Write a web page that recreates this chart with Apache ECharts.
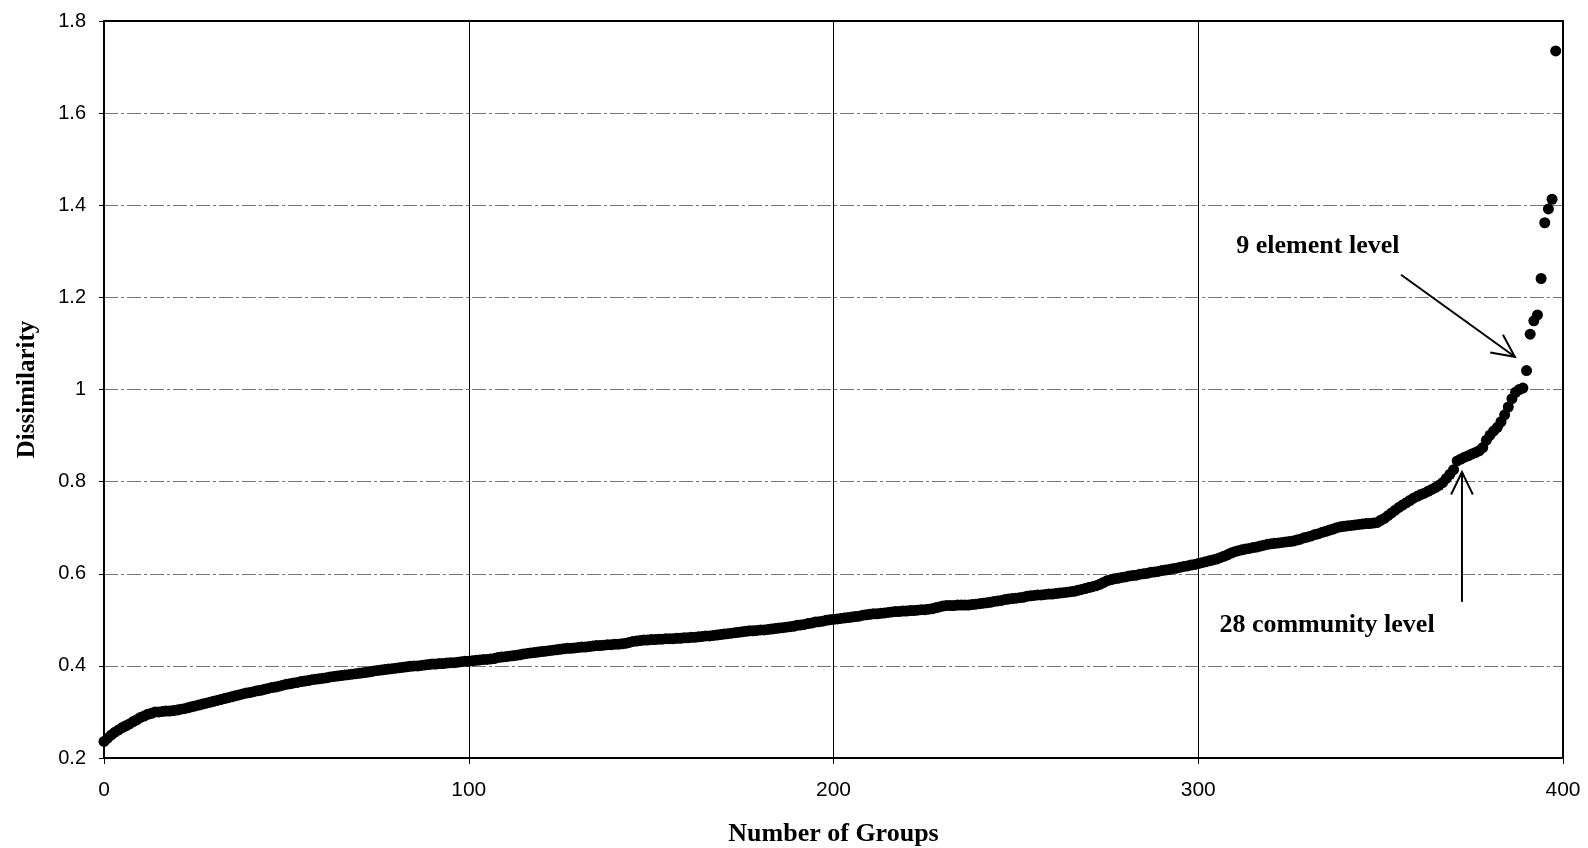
<!DOCTYPE html>
<html>
<head>
<meta charset="utf-8">
<script src="https://cdn.jsdelivr.net/npm/echarts@6/dist/echarts.min.js"></script>
<style>
html,body{margin:0;padding:0;background:#fff;}
#chart{width:1588px;height:848px;}
</style>
</head>
<body>
<div id="chart"></div>
<script>
// Dissimilarity value for each number of groups (index 0..398)
const dissimilarity = [
0.236,0.243,0.250,0.256,0.261,0.266,0.270,0.274,0.279,0.283,
0.288,0.291,0.295,0.297,0.300,0.300,0.301,0.302,0.302,0.303,
0.304,0.306,0.307,0.309,0.311,0.313,0.315,0.317,0.319,0.321,
0.323,0.325,0.327,0.329,0.331,0.333,0.335,0.337,0.339,0.341,
0.342,0.344,0.346,0.347,0.349,0.351,0.353,0.354,0.356,0.358,
0.360,0.361,0.363,0.364,0.366,0.367,0.368,0.370,0.371,0.372,
0.373,0.374,0.376,0.377,0.378,0.379,0.380,0.381,0.382,0.383,
0.384,0.385,0.386,0.387,0.389,0.390,0.391,0.392,0.393,0.394,
0.395,0.396,0.397,0.398,0.399,0.400,0.400,0.401,0.402,0.403,
0.404,0.404,0.405,0.405,0.406,0.407,0.407,0.408,0.409,0.410,
0.410,0.411,0.412,0.413,0.414,0.414,0.415,0.416,0.418,0.419,
0.420,0.421,0.422,0.423,0.424,0.426,0.427,0.428,0.429,0.430,
0.431,0.432,0.433,0.434,0.435,0.436,0.437,0.438,0.438,0.439,
0.440,0.441,0.441,0.442,0.443,0.444,0.444,0.445,0.446,0.446,
0.447,0.447,0.448,0.449,0.451,0.453,0.454,0.455,0.456,0.456,
0.457,0.457,0.458,0.458,0.459,0.459,0.459,0.460,0.460,0.461,
0.461,0.462,0.462,0.463,0.464,0.465,0.465,0.466,0.467,0.468,
0.469,0.470,0.471,0.472,0.473,0.474,0.475,0.476,0.476,0.477,
0.478,0.478,0.479,0.480,0.481,0.482,0.483,0.484,0.485,0.486,
0.488,0.489,0.490,0.492,0.493,0.495,0.496,0.497,0.499,0.500,
0.501,0.502,0.503,0.504,0.505,0.506,0.507,0.508,0.510,0.511,
0.512,0.513,0.513,0.514,0.515,0.516,0.517,0.518,0.518,0.519,
0.519,0.520,0.520,0.521,0.522,0.522,0.523,0.524,0.526,0.528,
0.530,0.531,0.531,0.531,0.532,0.532,0.532,0.532,0.533,0.534,
0.535,0.536,0.537,0.538,0.540,0.541,0.542,0.544,0.545,0.546,
0.547,0.548,0.549,0.551,0.552,0.553,0.554,0.554,0.555,0.556,
0.556,0.557,0.558,0.559,0.560,0.561,0.562,0.564,0.566,0.568,
0.570,0.572,0.574,0.577,0.581,0.585,0.587,0.589,0.590,0.592,
0.593,0.595,0.596,0.597,0.599,0.600,0.601,0.603,0.604,0.605,
0.607,0.608,0.609,0.611,0.612,0.614,0.616,0.617,0.619,0.620,
0.622,0.624,0.626,0.628,0.630,0.632,0.635,0.638,0.641,0.645,
0.648,0.650,0.652,0.654,0.655,0.657,0.658,0.660,0.662,0.664,
0.665,0.666,0.667,0.668,0.669,0.670,0.671,0.673,0.675,0.678,
0.680,0.682,0.685,0.687,0.690,0.692,0.695,0.697,0.700,0.702,
0.703,0.704,0.705,0.706,0.707,0.708,0.709,0.709,0.710,0.711,
0.716,0.720,0.726,0.732,0.738,0.744,0.749,0.754,0.759,0.764,
0.768,0.772,0.775,0.779,0.783,0.787,0.792,0.798,0.807,0.816,
0.826,0.845,0.849,0.853,0.856,0.860,0.863,0.867,0.874,0.890,
0.901,0.910,0.918,0.930,0.945,0.962,0.980,0.994,1.000,1.003,
1.041,1.120,1.149,1.162,1.241,1.362,1.392,1.413,1.735
];
const xTicks = [0, 100, 200, 300, 400];
const yTicks = [0.2, 0.4, 0.6, 0.8, 1, 1.2, 1.4, 1.6, 1.8];
const xTitle = 'Number of Groups';
const yTitle = 'Dissimilarity';
// annotations: label, text anchor, arrow start, arrow tip (data units)
const annotations = [
  {text: '9 element level', at: [332.8, 1.311], from: [355.6, 1.249], to: [386.8, 1.071]},
  {text: '28 community level', at: [335.3, 0.489], from: [372.3, 0.539], to: [372.3, 0.821]}
];

const points = dissimilarity.map((v, i) => [i, v]);
const chart = echarts.init(document.getElementById('chart'), null, {renderer: 'canvas'});
const serif = '"Liberation Serif", "Times New Roman", serif';
const sans = '"Liberation Sans", Arial, sans-serif';

chart.setOption({
  animation: false,
  backgroundColor: '#fff',
  grid: {left: 104, top: 21, right: 25, bottom: 90, show: false, containLabel: false, outerBoundsMode: 'none'},
  xAxis: [{
    type: 'value', min: xTicks[0], max: xTicks[xTicks.length - 1], interval: 100,
    name: xTitle, nameLocation: 'middle', nameGap: 63,
    nameTextStyle: {fontFamily: serif, fontWeight: 'bold', fontSize: 26, color: '#000'},
    axisLine: {show: true, onZero: false, lineStyle: {color: '#000', width: 2}},
    axisTick: {show: true, length: 6, lineStyle: {color: '#000', width: 1}},
    axisLabel: {fontFamily: sans, fontSize: 21, color: '#000', margin: 22},
    splitLine: {show: true, showMinLine: false, showMaxLine: false, lineStyle: {color: '#000', width: 1}}
  }, {
    type: 'value', position: 'top', min: xTicks[0], max: xTicks[xTicks.length - 1],
    axisLine: {show: true, onZero: false, lineStyle: {color: '#000', width: 2}},
    axisTick: {show: false}, axisLabel: {show: false}, splitLine: {show: false}
  }],
  yAxis: [{
    type: 'value', min: yTicks[0], max: yTicks[yTicks.length - 1], interval: 0.2,
    name: yTitle, nameLocation: 'middle', nameGap: 64, nameRotate: 90,
    nameTextStyle: {fontFamily: serif, fontWeight: 'bold', fontSize: 25, color: '#000'},
    axisLine: {show: true, onZero: false, lineStyle: {color: '#000', width: 2}},
    axisTick: {show: true, length: 5, lineStyle: {color: '#000', width: 1}},
    axisLabel: {fontFamily: sans, fontSize: 20, color: '#000', margin: 18,
      formatter: v => String(Math.round(v * 10) / 10)},
    splitLine: {show: true, showMinLine: false, showMaxLine: false, lineStyle: {color: '#777', width: 1, type: [14, 3, 3, 3]}}
  }, {
    type: 'value', position: 'right', min: yTicks[0], max: yTicks[yTicks.length - 1],
    axisLine: {show: true, onZero: false, lineStyle: {color: '#000', width: 2}},
    axisTick: {show: false}, axisLabel: {show: false}, splitLine: {show: false}
  }],
  series: [{
    type: 'scatter',
    data: points,
    symbol: 'circle',
    symbolSize: 11,
    itemStyle: {color: '#000', opacity: 1},
    silent: true
  }]
});

function arrowGraphics() {
  const els = [];
  annotations.forEach(a => {
    const t = chart.convertToPixel({xAxisIndex: 0, yAxisIndex: 0}, a.at);
    const p0 = chart.convertToPixel({xAxisIndex: 0, yAxisIndex: 0}, a.from);
    const p1 = chart.convertToPixel({xAxisIndex: 0, yAxisIndex: 0}, a.to);
    els.push({
      type: 'text', x: t[0], y: t[1],
      style: {text: a.text, font: 'bold 26px ' + serif, fill: '#000', align: 'center', verticalAlign: 'middle'}
    });
    els.push({type: 'line', shape: {x1: p0[0], y1: p0[1], x2: p1[0], y2: p1[1]}, style: {stroke: '#000', lineWidth: 2}});
    const ang = Math.atan2(p1[1] - p0[1], p1[0] - p0[0]);
    const L = 25, spread = 0.45;
    const a1 = ang + Math.PI - spread, a2 = ang + Math.PI + spread;
    els.push({type: 'polyline', shape: {points: [
      [p1[0] + L * Math.cos(a1), p1[1] + L * Math.sin(a1)],
      [p1[0], p1[1]],
      [p1[0] + L * Math.cos(a2), p1[1] + L * Math.sin(a2)]
    ]}, style: {stroke: '#000', lineWidth: 2, fill: null}});
  });
  return els;
}
chart.setOption({graphic: arrowGraphics()});
</script>
</body>
</html>
